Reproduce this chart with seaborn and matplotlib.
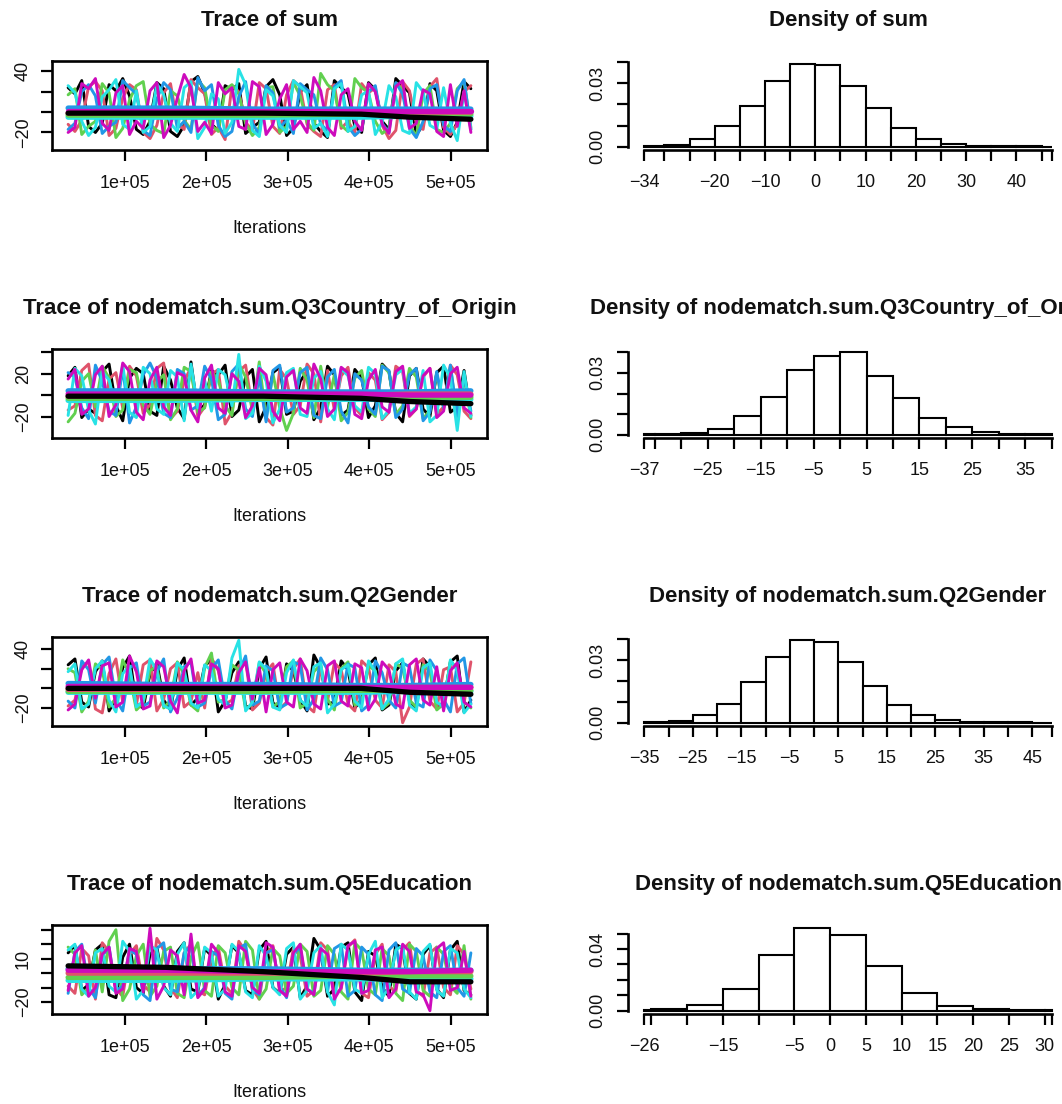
import numpy as np
import pandas as pd
import matplotlib
matplotlib.use("Agg")
import matplotlib.pyplot as plt
import seaborn as sns

# ---------------------------------------------------------------- data
CHAIN_NAMES = ["c1", "c2", "c3", "c4", "c5", "c6"]
CHAIN_COLORS = ["#000000", "#DF536B", "#61D04F", "#2297E6", "#28E2E5", "#CD0BBC"]
ITER_START, ITER_END = 30000, 525000
SMOOTH_ITERS = [30000, 150000, 270000, 390000, 450000, 525000]

TITLES_TRACE = ["Trace of sum", "Trace of nodematch.sum.Q3Country_of_Origin",
                "Trace of nodematch.sum.Q2Gender", "Trace of nodematch.sum.Q5Education"]
TITLES_DENS = ["Density of sum", "Density of nodematch.sum.Q3Country_of_Origin",
               "Density of nodematch.sum.Q2Gender", "Density of nodematch.sum.Q5Education"]

# trace values (chains: black, pink, green, blue, cyan, magenta)
TRACE_SUM = [
    [24, 18, 31, -14, -20, -11, 27, 21, 33, 16, -17, -22, -9, 29, 23, -19, -24, -13, 30, 35,
     19, -12, -18, 26, 22, 28, -21, -15, -10, 25, 32, 17, -23, -16, 20, 27, -11, -19, -25, 31,
     24, 18, -14, -20, 29, 22, -9, -17, 33, 26, 19, -22, -13, 28, 21, -18, -24, -10, 30, 23],
    [-12, -19, -8, 25, 30, 21, -23, -16, 14, 27, 22, -20, -26, -13, 19, 28, -11, -17, 32, 24,
     18, -22, -15, -27, 26, 20, -10, -18, 29, 23, -14, -21, 17, 31, 25, -12, -19, -24, 22, 27,
     -16, -9, -20, 28, 19, 24, -13, -26, -18, 30, 21, -11, -17, 25, 33, -15, -22, -12, 20, 26],
    [17, 23, -22, -14, -9, 28, 19, -25, -16, 12, 26, 30, -12, -18, -21, 21, 16, -8, -17, 31,
     24, -13, -19, 22, 27, 18, -11, -23, -15, 24, 25, -20, -14, 29, 16, -10, -18, 38, 27, 21,
     -13, -19, 33, 24, 19, -9, -21, -16, 28, 22, -12, -24, 18, 26, -17, -20, -11, 23, 30, -15],
    [-17, -11, 20, 27, 16, -21, -14, -10, 31, 24, 18, -18, -23, 13, 29, 22, -16, -9, -20, 34,
     21, 27, -13, -24, -19, 15, 30, -11, -22, 26, 19, -15, -8, -21, 28, 22, 17, -12, -18, 25,
     31, -14, -23, -17, 20, 26, -11, -20, 29, 18, -16, -25, -9, 23, 27, -13, -19, 21, 32, -17],
    [26, 19, -9, -23, -15, 15, 22, 32, -12, -17, 21, -20, -14, 28, 17, -11, -19, 24, 30, -26,
     -15, 18, 13, -21, -10, 42, 27, -18, -24, 22, 16, -13, -20, 31, 25, 19, -16, -11, -24, 23,
     28, -19, -14, 17, 21, -22, -10, 26, 15, -18, -21, 29, 20, -13, -17, 24, -11, -28, 20, -17],
    [-20, -15, 28, 23, 33, -11, -18, 19, 26, -22, -9, -16, 21, 29, -25, -13, 14, 37, 24, -19,
     -10, -21, 29, 18, 24, -14, -17, 30, 25, -22, -12, 13, 27, -17, -9, -20, 34, 21, -15, -23,
     17, 23, -9, -18, 28, 20, -12, -21, 25, 31, -16, -11, 22, 18, -19, -24, 27, -14, 21, -20],
]
TRACE_COUNTRY = [
    [18, 26, -21, -13, -17, 22, 29, -10, -24, 16, 25, 20, -15, -19, 27, 14, -12, -22, 31, -16,
     -9, 23, 19, 28, -20, -14, 17, 24, -25, -11, 21, 26, -18, -15, 13, 22, -23, -12, 27, 19,
     -19, -14, 24, 16, -21, -10, 29, 22, -17, -25, 18, 25, -13, -20, 21, 27, -16, -11, 23, -19],
    [-14, -10, 23, 29, -19, -24, 15, 21, -12, 27, 18, -17, -9, 25, 30, -22, -15, 13, 26, -20,
     -11, 19, 24, -27, -16, 22, 28, -13, 17, -21, -28, 24, 15, -18, -10, 29, 20, -25, 23, -14,
     18, 26, -12, -19, 21, 14, -23, -16, 27, 22, -20, -13, 17, 25, -18, -11, 28, 19, -15, -22],
    [-25, -17, 13, 20, -11, 27, 16, -20, -14, 24, 21, -9, -18, 12, 19, -23, -13, 26, 22, -16,
     -12, 22, 14, -10, -19, 29, 17, -15, 31, -22, 20, -12, -33, -17, 25, 14, -21, 27, -11, 19,
     -24, -16, 16, 23, -13, -20, 28, 21, -18, -10, 25, 17, -22, -14, 20, -12, 26, -19, 16, -21],
    [21, 17, -12, -22, 28, 13, -15, -19, 25, -26, -11, 19, 30, 16, -17, -21, 24, 20, -14, -10,
     27, 15, -23, -18, 22, 29, -13, -20, 18, -25, 23, 28, -16, -12, 21, 26, -19, -22, 17, 24,
     -15, -26, 20, 14, -11, -18, 27, 23, -21, -13, 19, 25, -24, -16, 22, -12, 28, -20, 17, -15],
    [-19, 25, 18, -14, -27, 22, 14, -11, 28, -16, -21, 26, 20, -13, -18, 23, 17, -24, 29, -12,
     14, -15, 24, 19, -10, 38, -22, -17, 27, 13, -26, -13, 21, 25, -18, -20, 16, 22, -13, -23,
     25, 18, -10, -16, 26, 20, -22, -14, 19, 24, -17, -11, 23, -25, -19, 28, 16, -33, 22, -20],
    [15, 24, -18, -13, 19, 27, -20, -9, 30, 22, -16, -23, 14, 26, -11, -19, 21, 18, -14, -25,
     16, 28, -12, -17, 20, 13, -21, -10, 25, 19, -15, -24, 17, 23, -12, -17, 29, 15, -20, -13,
     26, 21, -18, -22, 14, 24, -11, -16, 22, 27, -19, -13, 18, 25, -21, -15, 20, 26, -12, -17],
]
TRACE_GENDER = [
    [24, 30, -14, -19, 17, 28, -23, -11, 21, 33, -16, -20, 15, 26, -12, -22, 19, 31, -17, -10,
     23, 29, -24, -13, 16, 27, -18, -21, 20, 32, -15, -19, 25, 18, -12, -23, 34, 21, -16, -14,
     28, 19, -20, -11, 24, 31, -22, -17, 18, 26, -13, -21, 30, 22, -18, -15, 27, 33, -24, -12],
    [-18, -12, 22, 27, -21, -25, 15, 30, -14, 19, -17, 24, 29, -23, -11, 20, 26, -19, -13, 16,
     -20, 31, 18, -16, -12, 23, 28, -22, -15, 17, 25, -21, -14, 20, 30, -18, -24, 22, -13, 26,
     19, -16, -23, 28, 21, -12, -20, 24, 17, -35, -19, 25, 30, -13, -21, 19, 22, -24, -15, 27],
    [20, 16, -24, -13, 25, 19, -19, -10, 29, 13, -22, -15, 18, 23, -20, -12, 27, 14, -17, -23,
     21, 36, -14, -11, 24, 19, -21, -16, 26, 15, -19, -13, 22, 28, -20, -15, 17, 24, -11, -22,
     20, 27, -17, -13, 23, 18, -21, -15, 25, 21, -12, -19, 24, 17, -22, -16, 28, 20, -14, -20],
    [-13, -20, 28, 19, -15, 24, 32, -11, -23, 21, 26, -18, -14, 17, 30, -24, -10, 22, 27, -19,
     -15, 20, 29, -12, -21, 16, 33, -17, -13, 23, 18, -20, -16, 27, 24, -22, -11, 31, 19, -18,
     -14, 25, 21, -23, -17, 28, 16, -12, -20, 26, 22, -15, -19, 29, 18, -11, -24, 25, 31, -16],
    [17, 25, -21, -16, 20, 28, -12, -24, 15, 23, -19, -13, 30, 18, -18, -21, 26, 19, -15, -20,
     24, 18, -11, -17, 31, 49, -23, -14, 27, 20, -19, -22, 16, 29, -12, -18, 22, 26, -25, -16,
     19, 24, -13, -20, 28, 17, -21, -11, 25, 30, -17, -23, 21, 26, -14, -19, 29, 18, -25, -16],
    [-22, -16, 19, 29, -10, 23, 26, -19, -14, 33, 17, -21, -18, 28, 22, -13, -25, 18, 30, -15,
     -12, 25, 20, -20, -17, 16, 27, -11, 21, -24, 19, 26, -14, -19, 30, 18, -16, -21, 23, 28,
     -13, -18, 25, 21, -22, -11, 27, 19, -16, -20, 24, 30, -12, -17, 22, -23, 18, 26, -14, -19],
]
TRACE_EDUCATION = [
    [14, 19, -12, -8, 16, 20, -15, -17, 11, 20, -10, -14, 13, 18, -9, -16, 15, 21, -11, -13,
     17, 12, -18, -8, 19, 14, -12, -15, 16, 22, -10, -14, 13, 18, -17, -9, 24, 16, -16, -11,
     18, 21, -13, -19, 15, 12, -10, -16, 20, 17, -14, -18, 13, 19, -11, -17, 16, 22, -12, -15],
    [-9, -14, 17, 12, -18, 21, 15, -11, -16, 13, 19, -8, -13, 24, 16, -10, -17, 14, 20, -12,
     -15, 11, 18, -9, -14, 22, 15, -11, -18, 13, 19, -13, -10, 17, 12, -16, -12, 21, 16, -15,
     -11, 18, 23, -14, -17, 13, 20, -9, -13, 16, 21, -12, -16, 14, 18, -10, -15, 19, 13, -11],
    [18, 13, -15, -10, 16, -13, 22, 30, -19, -11, 12, 20, -16, -9, 15, 18, -14, -17, 11, 21,
     -12, -16, 19, 14, -10, -15, 22, 16, -18, -11, 17, 12, -14, -9, 20, 15, -16, -12, 19, 13,
     -13, -18, 21, 16, -11, -15, 17, 12, -14, -19, 20, 15, -12, -16, 18, 13, -9, -14, 19, -18],
    [-14, 15, 20, -10, -17, 12, 18, -12, -9, 16, 13, -15, -19, 17, 21, -11, -13, 14, 19, -16,
     -10, 15, 12, -14, -18, 17, 20, -12, -15, 14, 16, -9, -17, 13, 18, -11, -14, 15, -13, 17,
     20, -16, -12, 18, 13, -15, -19, 16, 21, -11, -14, 17, 12, -13, -17, 15, 19, -10, -16, 14],
    [16, 20, -11, -16, 14, 17, -9, -13, 22, 15, -18, -12, 19, 16, -10, -15, 13, 21, -17, -12,
     18, 14, -16, -11, 20, 15, -13, -17, 19, 12, -10, -15, 17, 21, -18, -12, 14, 19, -13, -22,
     20, 16, -11, -14, 13, 22, -17, -10, 16, 19, -13, -18, 15, 20, -12, -16, 17, 14, -11, -17],
    [-12, 14, 19, -16, -10, 13, 18, -14, -11, 17, 15, -13, 31, -18, -9, 16, 12, -15, 27, -17,
     -11, 20, 14, -13, -16, 19, 15, -10, -14, 21, 18, -12, -16, 14, 20, -11, -15, 17, 13, -18,
     -10, 19, 22, -14, -12, 16, 18, -17, -11, 20, 15, -13, -15, -26, 17, 21, -12, -10, 15, -16],
]

# smoothed (running) lines per chain
SMOOTH_SUM = [[-1, -1, -1, -2, -5, -7], [-1, -1, -1, 0, 0, 0], [-3, -3, -3, -2, -2, -2],
              [4, 4, 3, 3, 3, 3], [-5, -5, -5, -5, -4, -4], [1, 1, 1, 1, 1, 1]]
SMOOTH_COUNTRY = [[-1, -1, -1, -3, -6, -8], [-1, -1, 0, 0, 1, 1], [-3, -3, -3, -2, -2, -2],
                  [4, 4, 3, 3, 3, 4], [-5, -5, -4, -4, -4, -4], [1, 1, 1, 1, 0, 0]]
SMOOTH_GENDER = [[0, 0, 0, 0, -4, -6], [-1, -1, 0, 0, 1, 1], [-3, -3, -3, -2, -2, -2],
                 [5, 4, 4, 3, 3, 4], [-4, -4, -4, -4, -3, -3], [2, 2, 1, 1, 1, 1]]
SMOOTH_EDUCATION = [[5, 4, 1, -3, -6, -6], [0, 0, 0, 0, 1, 1], [-3, -3, -3, -2, -2, -2],
                    [3, 3, 3, 2, 2, 2], [-5, -5, -4, -4, -4, -4], [2, 2, 1, 1, 1, 2]]

# histogram bins (edges) and densities
EDGES_SUM = [-34, -30, -25, -20, -15, -10, -5, 0, 5, 10, 15, 20, 25, 30, 35, 40, 45, 47]
DENS_SUM = [0.0005, 0.001, 0.0037, 0.0097, 0.019, 0.031, 0.0389, 0.0384, 0.0286, 0.0183,
            0.0087, 0.0037, 0.0013, 0.0005, 0.0002, 0.0001, 0.00005]
EDGES_COUNTRY = [-37, -35, -30, -25, -20, -15, -10, -5, 0, 5, 10, 15, 20, 25, 30, 35, 40]
DENS_COUNTRY = [0.0001, 0.0002, 0.001, 0.003, 0.009, 0.0185, 0.0315, 0.0382, 0.04, 0.0283,
                0.0179, 0.0083, 0.0036, 0.0013, 0.0005, 0.0002]
EDGES_GENDER = [-35, -30, -25, -20, -15, -10, -5, 0, 5, 10, 15, 20, 25, 30, 35, 40, 45, 49]
DENS_GENDER = [0.0003, 0.001, 0.0035, 0.0092, 0.0193, 0.0315, 0.0395, 0.0387, 0.029, 0.0175,
               0.0085, 0.0035, 0.0014, 0.0005, 0.0002, 0.0001, 0.00003]
EDGES_EDUCATION = [-26, -25, -20, -15, -10, -5, 0, 5, 10, 15, 20, 25, 30, 31]
DENS_EDUCATION = [0.0002, 0.0009, 0.0037, 0.0143, 0.036, 0.0535, 0.0493, 0.0287, 0.0115,
                  0.003, 0.0013, 0.0007, 0.0002]

# tick labels that are printed
XLAB_SUM = [-34, -20, -10, 0, 10, 20, 30, 40]
XLAB_COUNTRY = [-37, -25, -15, -5, 5, 15, 25, 35]
XLAB_GENDER = [-35, -25, -15, -5, 5, 15, 25, 35, 45]
XLAB_EDUCATION = [-26, -15, -5, 0, 5, 10, 15, 20, 25, 30]

DENS_YTICKS = [[0, 0.01, 0.02, 0.03, 0.04], [0, 0.01, 0.02, 0.03, 0.04],
               [0, 0.01, 0.02, 0.03, 0.04], [0, 0.01, 0.02, 0.03, 0.04, 0.05]]
DENS_YLAB = [["0.00", "0.03"], ["0.00", "0.03"], ["0.00", "0.03"], ["0.00", "0.04"]]

TRACE_XTICKS = [100000, 200000, 300000, 400000, 500000]
TRACE_XLABELS = ["1e+05", "2e+05", "3e+05", "4e+05", "5e+05"]
TRACE_YTICKS = [[-20, 0, 20, 40], [-20, 0, 20, 40], [-20, 0, 20, 40], [-20, -10, 0, 10, 20, 30]]
TRACE_YLAB = [[-20, 40], [-20, 20], [-20, 40], [-20, 10]]

# ---------------------------------------------------------------- style
sns.set_style("ticks")
plt.rcParams["font.family"] = ["Liberation Sans", "DejaVu Sans"]
plt.rcParams["axes.unicode_minus"] = True
plt.rcParams["lines.solid_joinstyle"] = "round"
plt.rcParams["lines.solid_capstyle"] = "round"

W, H = 1062, 1104
fig = plt.figure(figsize=(W / 100, H / 100), dpi=100)
fig.patch.set_facecolor("white")

TITLE_SIZE = 16
TICK_SIZE = 13
TEXT_COLOR = "#111111"


def add_px_axes(left, top, right, bottom):
    return fig.add_axes([left / W, 1 - bottom / H, (right - left) / W, (bottom - top) / H])


def fmt(v):
    s = f"{v:g}"
    return s.replace("-", "\u2212")


def draw_trace(ax, title, chains, smooth, edges, yticks, ylab):
    n = len(chains[0])
    iters = np.linspace(ITER_START, ITER_END, n)
    pal = dict(zip(CHAIN_NAMES, CHAIN_COLORS))
    df = pd.DataFrame({
        "Iterations": np.tile(iters, len(chains)),
        "value": np.concatenate([np.asarray(c, float) for c in chains]),
        "chain": np.repeat(CHAIN_NAMES, n),
    })
    sns.lineplot(data=df, x="Iterations", y="value", hue="chain", hue_order=CHAIN_NAMES,
                 palette=pal, estimator=None, sort=False, linewidth=2.1, legend=False, ax=ax)
    m = len(SMOOTH_ITERS)
    ds = pd.DataFrame({
        "Iterations": np.tile(SMOOTH_ITERS, len(smooth)),
        "value": np.concatenate([np.asarray(s, float) for s in smooth]),
        "chain": np.repeat(CHAIN_NAMES, m),
    })
    order = ["c5", "c4", "c3", "c2", "c6", "c1"]
    sns.lineplot(data=ds, x="Iterations", y="value", hue="chain", hue_order=order,
                 palette=pal, estimator=None, sort=False, linewidth=3.8, legend=False, ax=ax)
    span = ITER_END - ITER_START
    ax.set_xlim(ITER_START - 0.04 * span, ITER_END + 0.04 * span)
    lo, hi = edges[0], edges[-1]
    r = hi - lo
    ax.set_ylim(lo - 0.04 * r, hi + 0.04 * r)
    ax.set_xticks(TRACE_XTICKS)
    ax.set_xticklabels(TRACE_XLABELS)
    ax.set_yticks(yticks)
    ax.set_yticklabels([fmt(t) if t in ylab else "" for t in yticks])
    for sp in ax.spines.values():
        sp.set_visible(True)
        sp.set_linewidth(1.9)
        sp.set_color("black")
        sp.set_zorder(5)
    ax.tick_params(axis="both", direction="out", length=8, width=1.6, color="black",
                   labelsize=TICK_SIZE, labelcolor=TEXT_COLOR)
    ax.tick_params(axis="x", pad=10)
    ax.tick_params(axis="y", pad=6.5, labelrotation=90)
    for lbl in ax.get_yticklabels():
        lbl.set_va("center")
    ax.set_xlabel("Iterations", fontsize=TICK_SIZE, labelpad=20, color=TEXT_COLOR)
    ax.set_ylabel("")
    ax.set_title(title, fontsize=TITLE_SIZE, fontweight="bold", pad=25, color=TEXT_COLOR)


def draw_density(ax, title, edges, dens, xlab, yticks, ylab):
    edges = np.asarray(edges, float)
    hist_df = pd.DataFrame({"mid": (edges[:-1] + edges[1:]) / 2,
                            "density": np.asarray(dens, float)})
    sns.histplot(data=hist_df, x="mid", weights="density", bins=list(edges), stat="count",
                 fill=True, color="white", edgecolor="black", linewidth=1.5, alpha=1, ax=ax)
    lo, hi = edges[0], edges[-1]
    r = hi - lo
    ax.set_xlim(lo - 0.04 * r, hi + 0.04 * r)
    top = max(dens)
    ax.set_ylim(-0.04 * top, 1.04 * top)
    ax.set_xticks(edges)
    ax.set_xticklabels([fmt(int(e)) if int(e) in xlab else "" for e in edges])
    ax.set_yticks(yticks)
    ax.set_yticklabels([f"{t:.2f}" if f"{t:.2f}" in ylab else "" for t in yticks])
    ax.spines["top"].set_visible(False)
    ax.spines["right"].set_visible(False)
    for k in ("left", "bottom"):
        ax.spines[k].set_linewidth(1.9)
        ax.spines[k].set_color("black")
    ax.spines["bottom"].set_bounds(lo, hi)
    ax.spines["left"].set_bounds(yticks[0], yticks[-1])
    ax.tick_params(axis="both", direction="out", length=8, width=1.6, color="black",
                   labelsize=TICK_SIZE, labelcolor=TEXT_COLOR)
    ax.tick_params(axis="x", pad=9)
    ax.tick_params(axis="y", pad=8, labelrotation=90)
    for lbl in ax.get_yticklabels():
        lbl.set_va("center")
    ax.set_xlabel("")
    ax.set_ylabel("")
    ax.set_facecolor("white")
    ax.set_title(title, fontsize=TITLE_SIZE, fontweight="bold", pad=25, color=TEXT_COLOR)


TRACES = [TRACE_SUM, TRACE_COUNTRY, TRACE_GENDER, TRACE_EDUCATION]
SMOOTHS = [SMOOTH_SUM, SMOOTH_COUNTRY, SMOOTH_GENDER, SMOOTH_EDUCATION]
EDGES = [EDGES_SUM, EDGES_COUNTRY, EDGES_GENDER, EDGES_EDUCATION]
DENS = [DENS_SUM, DENS_COUNTRY, DENS_GENDER, DENS_EDUCATION]
XLABS = [XLAB_SUM, XLAB_COUNTRY, XLAB_GENDER, XLAB_EDUCATION]

ROW_TOPS = [61, 349, 637, 925]
ROW_H = 89

for i in range(4):
    top = ROW_TOPS[i]
    ax_t = add_px_axes(52, top, 487, top + ROW_H)
    draw_trace(ax_t, TITLES_TRACE[i], TRACES[i], SMOOTHS[i], EDGES[i],
               TRACE_YTICKS[i], TRACE_YLAB[i])
    ax_d = add_px_axes(628, top, 1068, top + ROW_H)
    draw_density(ax_d, TITLES_DENS[i], EDGES[i], DENS[i], XLABS[i],
                 DENS_YTICKS[i], DENS_YLAB[i])

fig.savefig("out.png", dpi=100, facecolor="white")
